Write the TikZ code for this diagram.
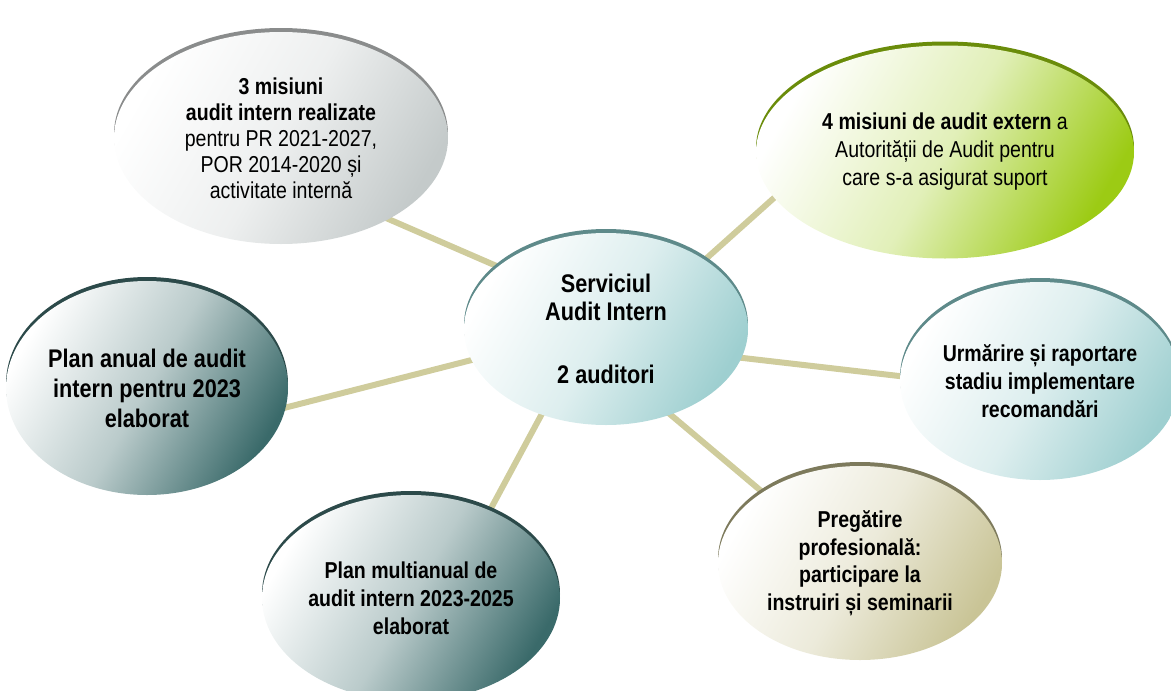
\documentclass[tikz,border=0pt]{standalone}
\usepackage{fontspec}
\setmainfont{Liberation Sans}[FakeStretch=0.85]
\usetikzlibrary{shapes.geometric,shadows,backgrounds}
\definecolor{greyfill}{HTML}{C4CACA}
\definecolor{greyrim}{HTML}{8A8C8C}
\definecolor{greenfill}{HTML}{9CCB14}
\definecolor{greenrim}{HTML}{6A8C0A}
\definecolor{tealfill}{HTML}{9ECFD0}
\definecolor{tealrim}{HTML}{5E8A8A}
\definecolor{khakifill}{HTML}{C9C496}
\definecolor{khakirim}{HTML}{7D7A5C}
\definecolor{slatefill}{HTML}{3A6A6A}
\definecolor{slaterim}{HTML}{2C4A4A}
\definecolor{linkcol}{HTML}{CFCC9C}

\begin{document}
\begin{tikzpicture}[x=1pt,y=-1pt]
\tikzstyle{bub}=[ellipse,inner sep=0pt,align=center,top color=white,font=\fontsize{23}{28}\selectfont];
\tikzstyle{bigtext}=[font=\bfseries\fontsize{25.5}{30}\selectfont];
\tikzstyle{bgrey}=[bub,bottom color=greyfill,middle color=greyfill!30!white,shading angle=60,drop shadow={shadow xshift=0pt,shadow yshift=4pt,fill=greyrim,opacity=1}];
\tikzstyle{bgreen}=[bub,bottom color=greenfill,middle color=greenfill!30!white,shading angle=60,drop shadow={shadow xshift=0pt,shadow yshift=4pt,fill=greenrim,opacity=1}];
\tikzstyle{bteal}=[bub,bottom color=tealfill,middle color=tealfill!35!white,shading angle=60,drop shadow={shadow xshift=0pt,shadow yshift=4pt,fill=tealrim,opacity=1}];
\tikzstyle{bkhaki}=[bub,bottom color=khakifill,middle color=khakifill!35!white,shading angle=60,drop shadow={shadow xshift=0pt,shadow yshift=4pt,fill=khakirim,opacity=1}];
\tikzstyle{bslate}=[bub,bottom color=slatefill,middle color=slatefill!35!white,shading angle=60,drop shadow={shadow xshift=0pt,shadow yshift=4pt,fill=slaterim,opacity=1}];
\tikzstyle{link}=[line width=6pt,draw=linkcol,shorten <=-5pt,shorten >=-5pt];
\useasboundingbox (0,0) rectangle (1171,691);

\node [bteal,bigtext,minimum width=284pt,minimum height=192pt,font=\bfseries\fontsize{25.5}{28}\selectfont] (v1) at (606,329) {Serviciul\\Audit Intern\\[35pt]2 auditori};
\node [bgrey,minimum width=334pt,minimum height=212pt,font=\fontsize{23}{26}\selectfont] (v2) at (281,138) {\textbf{3 misiuni}\\\textbf{audit intern realizate}\\pentru PR 2021-2027,\\POR 2014-2020 și\\activitate internă};
\node [bgreen,minimum width=378pt,minimum height=213pt] (v3) at (945,152) {\textbf{4 misiuni de audit extern} a\\Autorității de Audit pentru\\care s-a asigurat suport};
\node [bslate,bigtext,minimum width=282pt,minimum height=214pt] (v4) at (147,388) {Plan anual de audit\\intern pentru 2023\\elaborat};
\node [bteal,minimum width=280pt,minimum height=198pt,font=\bfseries\fontsize{23}{28}\selectfont] (v5) at (1040,381) {Urmărire și raportare\\stadiu implementare\\recomandări};
\node [bslate,minimum width=298pt,minimum height=206pt,font=\bfseries\fontsize{23}{28}\selectfont] (v6) at (411,598) {Plan multianual de\\audit intern 2023-2025\\elaborat};
\node [bkhaki,minimum width=284pt,minimum height=194pt,font=\bfseries\fontsize{23}{27.5}\selectfont] (v7) at (860,563) {Pregătire\\profesională:\\participare la\\instruiri și seminarii};

\begin{scope}[on background layer]
\draw [link] (v1.150) -- (v2.-37);
\draw [link] (v1.35) -- (v3.195);
\draw [link] (v1.193) -- (v4.-8);
\draw [link] (v1.-12) -- (v5.178);
\draw [link] (v1.233) -- (v6.48);
\draw [link] (v1.-53) -- (v7.144);
\end{scope}
\end{tikzpicture}
\end{document}
